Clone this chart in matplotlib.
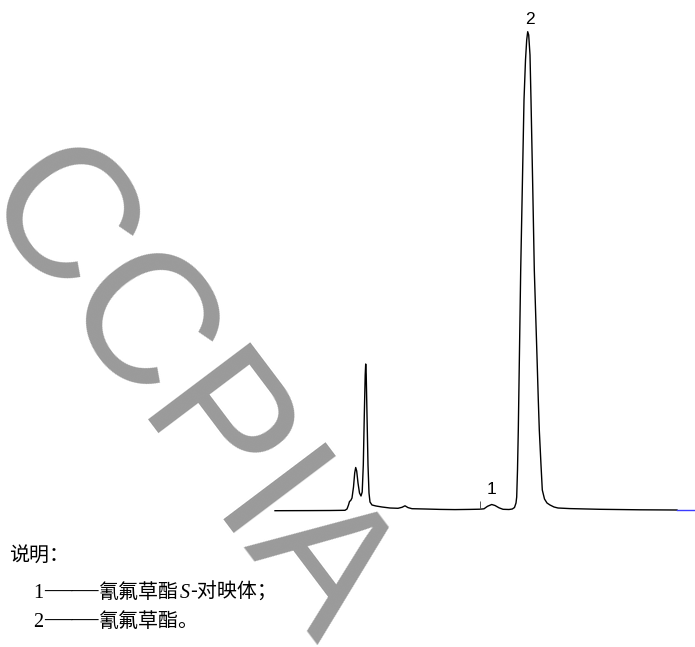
import matplotlib
matplotlib.use("Agg")
import matplotlib.pyplot as plt

# ---------------- data ----------------
# retention time (min) and detector signal (mAU) of the chromatogram trace
time_min = [0.00, 1.75, 2.75, 3.50, 3.60, 3.675, 3.725, 3.785, 3.85, 3.925, 3.985,
            4.035, 4.085, 4.15, 4.225, 4.30, 4.36, 4.415, 4.465, 4.51, 4.535, 4.56,
            4.60, 4.65, 4.70, 4.75, 4.85, 5.05, 5.35, 5.75, 6.15, 6.35, 6.50, 6.65,
            6.85, 7.50, 8.25, 9.00, 9.75, 10.25, 10.45, 10.625, 10.835, 11.00, 11.20,
            11.40, 11.70, 11.865, 11.975, 12.05, 12.085, 12.125, 12.165, 12.2175,
            12.285, 12.365, 12.45, 12.525, 12.585, 12.635, 12.685, 12.75, 12.80,
            12.885, 12.965, 13.035, 13.105, 13.165, 13.215, 13.30, 13.365, 13.475,
            13.60, 13.75, 13.95, 14.15, 14.75, 16.25, 18.25, 20.10]
signal = [-0.7, -0.6, -0.5, -0.3, 1.0, 5, 8.5, 9.5, 12, 23, 37,
          42.5, 39, 27, 17, 14, 18, 45, 95, 135, 146, 136,
          95, 45, 17, 8, 5, 4, 3, 2, 1.7, 2.7, 4.2, 2.4,
          1.3, 1.0, 0.6, 0.4, 0.6, 0.8, 1.2, 3.7, 5.5, 4.5, 2.2,
          0.7, 0.5, 1.0, 2.5, 7, 13, 40, 80, 150,
          240, 322, 410, 450, 470, 478.3, 475, 455, 410,
          325, 240, 195, 150, 110, 80, 45, 20, 11,
          7, 5, 3, 2, 1.4, 0.7, 0.2, 0.0]
# last baseline segment drawn in blue
tail_time = [20.10, 21.00]
tail_signal = [0.0, 0.0]

# peak labels
peak_ids = ["1", "2"]
peak_label_time = [10.85, 12.75]
peak_label_signal = [20, 490]
# integration marker
marker_time = [10.25]
marker_low = [0.8]
marker_high = [9.0]

caption_title = "说明："
legend_numbers = ["1", "2"]
legend_names_pre = ["氰氟草酯", "氰氟草酯。"]
legend_italic = ["S", ""]
legend_names_post = ["-对映体；", ""]
watermark = "CCPIA"

# ---------------- figure ----------------
W, H = 695, 647
fig = plt.figure(figsize=(W / 100, H / 100), dpi=100)
ax = fig.add_axes([0, 0, 1, 1])
ax.set_xlim(-13.75, 21.0)
ax.set_ylim(-137, 510)
ax.axis("off")

ax.plot(time_min, signal, color="black", lw=1.0, solid_joinstyle="round")
ax.plot(tail_time, tail_signal, color="#3b3bff", lw=1.0)
ax.vlines(marker_time, marker_low, marker_high, color="#555555", lw=0.7)

for pid, tx, sy in zip(peak_ids, peak_label_time, peak_label_signal):
    ax.text(tx, sy, pid, ha="center", va="center", fontsize=12.5,
            family="Liberation Sans", color="black")

# ---------------- caption ----------------
renderer = fig.canvas.get_renderer()
SER = "Liberation Serif"
CJK = "Noto Sans CJK SC"
FS = 14.4


def draw_pieces(x, y, pieces):
    for s, kw in pieces:
        if not s:
            continue
        t = fig.text(x / W, 1 - y / H, s, va="baseline", ha="left",
                     fontsize=kw.get("fs", FS), family=kw.get("family", CJK),
                     style=kw.get("style", "normal"), color="black")
        bb = t.get_window_extent(renderer)
        x += bb.width + kw.get("gap", 0.5)


draw_pieces(9, 561, [(caption_title, {"family": CJK})])
baselines = [598, 627]
for num, pre, it, post, yb in zip(legend_numbers, legend_names_pre, legend_italic,
                                  legend_names_post, baselines):
    draw_pieces(33, yb, [
        (num, {"family": SER, "fs": 14.5}),
        ("——", {"family": SER, "fs": 19.5, "gap": 1}),
        (pre, {"family": CJK}),
        (it, {"family": SER, "style": "italic", "fs": 14.5}),
        (post, {"family": CJK}),
    ])

# ---------------- watermark ----------------
fig.text(144 / W, 1 - 427 / H, watermark, fontsize=133, family="Liberation Sans",
         color="#9a9a9a", rotation=-53, rotation_mode="anchor",
         ha="center", va="baseline", zorder=10)

fig.savefig("out.png", dpi=100)
